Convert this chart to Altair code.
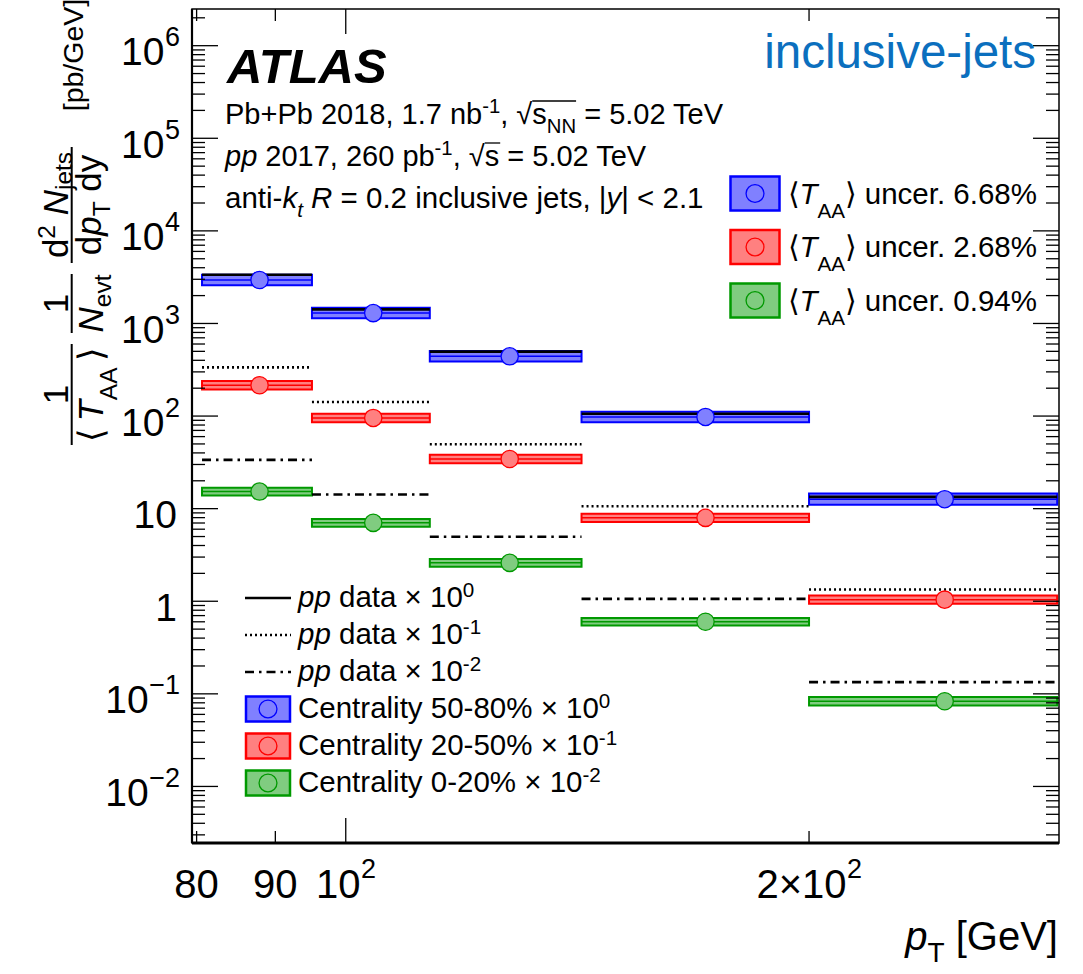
import altair as alt
import pandas as pd

# ---------------- data ----------------
BIN_LO = [80.65, 95.07, 113.4, 142.3, 200.0]
BIN_HI = [95.07, 113.4, 142.3, 200.0, 289.9]
PT_MARK = [87.9, 104.2, 127.8, 171.3, 245.0]
PP = [3360, 1420, 497, 106, 13.4]
AA_5080 = [2950, 1294, 442, 97.8, 12.65]
AA_2050 = [2150, 954, 344, 79.6, 10.4]
AA_0020 = [1530, 703, 260, 60.1, 8.32]
SYS_5080 = [0.14, 0.14, 0.14, 0.14, 0.15]
SYS_2050 = [0.11, 0.11, 0.11, 0.11, 0.11]
SYS_0020 = [0.10, 0.10, 0.10, 0.10, 0.11]
SCALE_EXP = [0, -1, -2]
CENT_LABELS = ["50-80%", "20-50%", "0-20%"]
TAA_UNC = ["6.68%", "2.68%", "0.94%"]
SCALE_SUP = ["0", "-1", "-2"]

Y_MAJOR = [1e-2, 1e-1, 1, 10, 100, 1e3, 1e4, 1e5, 1e6]
Y_LABEL_BASE = ["10", "10", "1", "10", "10", "10", "10", "10", "10"]
Y_LABEL_SUP = ["\u22122", "\u22121", "", "", "2", "3", "4", "5", "6"]
X_MAJOR = [100]
X_MINOR = [80, 90, 200]
X_LABEL_VAL = [80, 90, 100, 200]
X_LABEL_BASE = ["80", "90", "10", "2\u00d710"]
X_LABEL_SUP = ["", "", "2", "2"]

Y_DOMAIN = [2.45e-3, 2.49e6]
X_DOMAIN = [79.45, 290.7]

# ---------------- layout ----------------
PADL, PADT = 192, 9
W, H = 867, 834
FONT = "Liberation Sans"

SERIES = ["c5080", "c2050", "c0020"]
STROKES = ["#0000ff", "#ff0000", "#009900"]
FILLS = ["#8080ff", "#ff8080", "#80cc80"]

xs = alt.Scale(type="log", domain=X_DOMAIN, nice=False)
ys = alt.Scale(type="log", domain=Y_DOMAIN, nice=False)

HW = {' ': 278, '!': 278, '%': 889, '(': 333, ')': 333, '+': 584, ',': 278, '-': 333,
      '.': 278, '/': 278, '<': 584, '=': 584, '>': 584, '[': 278, ']': 278, '|': 260,
      'A': 667, 'B': 667, 'C': 722, 'D': 722, 'E': 667, 'F': 611, 'G': 778, 'H': 722, 'I': 278,
      'J': 500, 'K': 667, 'L': 556, 'M': 833, 'N': 722, 'O': 778, 'P': 667, 'Q': 778, 'R': 722,
      'S': 667, 'T': 611, 'U': 722, 'V': 667, 'W': 944, 'X': 667, 'Y': 667, 'Z': 611,
      'a': 556, 'b': 556, 'c': 500, 'd': 556, 'e': 556, 'f': 278, 'g': 556, 'h': 556, 'i': 222,
      'j': 222, 'k': 500, 'l': 222, 'm': 833, 'n': 556, 'o': 556, 'p': 556, 'q': 556, 'r': 333,
      's': 500, 't': 278, 'u': 556, 'v': 500, 'w': 722, 'x': 500, 'y': 500, 'z': 500,
      '\u00d7': 584, '\u2212': 584, '\u27e8': 390, '\u27e9': 390, '\u221a': 549}
for d in "0123456789":
    HW[d] = 556
HWB = {'A': 722, 'T': 611, 'L': 611, 'S': 667}


def tw(s, size, bold=False):
    tab = HWB if bold else {}
    return sum(tab.get(c, HW.get(c, 556)) for c in s) * size / 1000.0


TEXT_ROWS = []


def place(x0, y0, parts, S, align="left", angle=0, color="black", sup_dy=-0.38, sub_dy=0.3, rel=0.7):
    segs = []
    for p in parts:
        raw, kind = p[0], p[1]
        over = p[2] if len(p) > 2 else None
        if kind in ("sup", "isup"):
            size, dy = S * rel, sup_dy * S
        elif kind in ("sub", "isub"):
            size, dy = S * rel, sub_dy * S
        else:
            size, dy = S, 0.0
        if over is not None:
            dy = over
        style = "italic" if kind in ("i", "isub", "isup", "b") else "normal"
        weight = "bold" if kind == "b" else "normal"
        lead = len(raw) - len(raw.lstrip(" "))
        segs.append(dict(text=raw.strip(" "), size=size, dy=dy, style=style, weight=weight,
                         w=tw(raw, size, kind == "b"), lead=tw(" " * lead, size)))
    total = sum(s["w"] for s in segs)
    adv = {"left": 0.0, "center": -total / 2, "right": -total}[align]
    out = []
    for s in segs:
        a = adv + s["lead"]
        if angle == 0:
            x, y = x0 + a, y0 + s["dy"]
        else:
            x, y = x0 + s["dy"], y0 - a
        if s["text"]:
            TEXT_ROWS.append(dict(x=x - PADL, y=y - PADT, text=s["text"], size=s["size"],
                                  style=s["style"], weight=s["weight"], angle=angle, color=color))
        out.append((x0 + a, x0 + adv + s["w"]))
        adv += s["w"]
    return out


def one():
    return pd.DataFrame({"a": [0]})


def prule(x1, y1, x2, y2, width=1.3, color="black", dash=None):
    kw = dict(strokeWidth=width, color=color)
    if dash:
        kw["strokeDash"] = dash
    return alt.Chart(one()).mark_rule(**kw).encode(
        x=alt.value(x1 - PADL), x2=alt.value(x2 - PADL),
        y=alt.value(y1 - PADT), y2=alt.value(y2 - PADT))


layers = []

# ---------------- data marks ----------------
rows = []
for s, vals, sys, e in zip(SERIES, [AA_5080, AA_2050, AA_0020], [SYS_5080, SYS_2050, SYS_0020], SCALE_EXP):
    f = 10.0 ** e
    for i in range(len(vals)):
        v = vals[i] * f
        rows.append(dict(series=s, lo=BIN_LO[i], hi=BIN_HI[i], pt=PT_MARK[i], v=v,
                         vlo=v / (1 + sys[i]), vhi=v * (1 + sys[i])))
box_df = pd.DataFrame(rows)

fill_enc = alt.Fill("series:N", scale=alt.Scale(domain=SERIES, range=FILLS), legend=None)
stroke_enc = alt.Stroke("series:N", scale=alt.Scale(domain=SERIES, range=STROKES), legend=None)

layers.append(alt.Chart(box_df).mark_rect(strokeWidth=2).encode(
    x=alt.X("lo:Q", scale=xs, axis=None), x2="hi:Q",
    y=alt.Y("vlo:Q", scale=ys, axis=None), y2="vhi:Q",
    fill=fill_enc, stroke=stroke_enc))
layers.append(alt.Chart(box_df).mark_rule(strokeWidth=1.5).encode(
    x=alt.X("lo:Q", scale=xs, axis=None), x2="hi:Q",
    y=alt.Y("v:Q", scale=ys, axis=None), stroke=stroke_enc))

DASHES = [None, [2, 3], [9, 5, 2.5, 5]]
for e, dash in zip(SCALE_EXP, DASHES):
    f = 10.0 ** e
    df = pd.DataFrame({"lo": BIN_LO, "hi": BIN_HI, "v": [p * f for p in PP]})
    kw = dict(strokeWidth=2.6, color="black")
    if dash:
        kw["strokeDash"] = dash
    layers.append(alt.Chart(df).mark_rule(**kw).encode(
        x=alt.X("lo:Q", scale=xs, axis=None), x2="hi:Q",
        y=alt.Y("v:Q", scale=ys, axis=None)))

layers.append(alt.Chart(box_df).mark_circle(size=300, strokeWidth=1.3, opacity=1).encode(
    x=alt.X("pt:Q", scale=xs, axis=None), y=alt.Y("v:Q", scale=ys, axis=None),
    fill=fill_enc, stroke=stroke_enc))

# ---------------- ticks ----------------
y_minor = []
for n in range(-3, 7):
    for k in range(2, 10):
        v = k * 10.0 ** n
        if Y_DOMAIN[0] <= v <= Y_DOMAIN[1]:
            y_minor.append(v)

for vals, ln in [(Y_MAJOR, 26), (y_minor, 13)]:
    df = pd.DataFrame({"v": vals})
    layers.append(alt.Chart(df).mark_rule(strokeWidth=1.3, color="black").encode(
        x=alt.value(0), x2=alt.value(ln), y=alt.Y("v:Q", scale=ys, axis=None)))
    layers.append(alt.Chart(df).mark_rule(strokeWidth=1.3, color="black").encode(
        x=alt.value(W), x2=alt.value(W - ln), y=alt.Y("v:Q", scale=ys, axis=None)))
for vals, ln in [(X_MAJOR, 25), (X_MINOR, 12)]:
    df = pd.DataFrame({"v": vals})
    layers.append(alt.Chart(df).mark_rule(strokeWidth=1.3, color="black").encode(
        y=alt.value(H), y2=alt.value(H - ln), x=alt.X("v:Q", scale=xs, axis=None)))
    layers.append(alt.Chart(df).mark_rule(strokeWidth=1.3, color="black").encode(
        y=alt.value(0), y2=alt.value(ln), x=alt.X("v:Q", scale=xs, axis=None)))

# frame thick edges
layers.append(prule(PADL, PADT, PADL, PADT + H, width=2.2))
layers.append(prule(PADL, PADT + H, PADL + W, PADT + H, width=3))

# ---------------- y tick labels ----------------
R = 180 - PADL
yl = []
for v, b, s in zip(Y_MAJOR, Y_LABEL_BASE, Y_LABEL_SUP):
    ws = tw(s, 27)
    sx = R - ws
    bx = sx - 0.5 if s else R - 3
    yl.append(dict(v=v, b=b, s=s, bx=bx, sx=sx))
yl_df = pd.DataFrame(yl)
layers.append(alt.Chart(yl_df).mark_text(align="right", baseline="alphabetic", font=FONT,
                                         fontSize=39, dy=19.5, color="black").encode(
    x=alt.X("bx:Q", scale=None, axis=None), y=alt.Y("v:Q", scale=ys, axis=None), text="b:N"))
layers.append(alt.Chart(yl_df[yl_df["s"] != ""]).mark_text(align="left", baseline="alphabetic", font=FONT,
                                                         fontSize=27, dy=0.5, color="black").encode(
    x=alt.X("sx:Q", scale=None, axis=None), y=alt.Y("v:Q", scale=ys, axis=None), text="s:N"))

# ---------------- x tick labels ----------------
for v, b, s in zip(X_LABEL_VAL, X_LABEL_BASE, X_LABEL_SUP):
    df = pd.DataFrame({"v": [v], "b": [b], "s": [s]})
    if s:
        wb, wsup = tw(b, 40), tw(s, 27)
        dx = (wb + wsup) / 2 - wsup
        layers.append(alt.Chart(df).mark_text(align="right", baseline="alphabetic", font=FONT,
                                              fontSize=40, dx=dx, color="black").encode(
            x=alt.X("v:Q", scale=xs, axis=None), y=alt.value(898 - PADT), text="b:N"))
        layers.append(alt.Chart(df).mark_text(align="left", baseline="alphabetic", font=FONT,
                                              fontSize=27, dx=dx + 0.5, color="black").encode(
            x=alt.X("v:Q", scale=xs, axis=None), y=alt.value(878 - PADT), text="s:N"))
    else:
        layers.append(alt.Chart(df).mark_text(align="center", baseline="alphabetic", font=FONT,
                                              fontSize=40, color="black").encode(
            x=alt.X("v:Q", scale=xs, axis=None), y=alt.value(898 - PADT), text="b:N"))

# x title
place(1058, 950, [("p", "i"), ("T", "sub", 12), (" [GeV]", "n")], 40, align="right")

# ---------------- y title (rotated fractions) ----------------
place(68, 394.5, [("1", "n")], 35, align="center", angle=270)
place(103, 394.5, [("\u27e8", "n"), (" ", "sub"), ("T", "i"), ("AA", "sub", 14), (" ", "sub"), ("\u27e9", "n")],
      35, align="center", angle=270)
place(68, 303.5, [("1", "n")], 35, align="center", angle=270)
place(103, 303.5, [("N", "i"), ("evt", "sub", 8)], 35, align="center", angle=270)
place(68, 205, [("d", "n"), ("2", "sup", -13), (" ", "n"), ("N", "i"), ("jets", "sub", 4)], 35,
      align="center", angle=270)
place(101, 205, [("d", "n"), ("p", "i"), ("T", "sub", 9), (" dy", "n")], 35, align="center", angle=270)
place(83, 55, [("[pb/GeV]", "n")], 28.5, align="center", angle=270)
for y1, y2 in [(344, 445), (274, 333), (147, 263)]:
    layers.append(prule(71.7, y1, 71.7, y2, width=2))

# ---------------- annotations ----------------
place(227, 83, [("ATLAS", "b")], 49)
s1 = place(225, 124, [("Pb+Pb 2018, 1.7 nb", "n"), ("-1", "sup"), (",", "n"), (" \u221a", "n"),
                      ("s", "n"), ("NN", "sub"), (" = 5.02 TeV", "n")], 29)
layers.append(prule(s1[4][0], 124 - 23, s1[5][1], 124 - 23, width=1.3))
s2 = place(225, 166, [("pp", "i"), (" 2017, 260 pb", "n"), ("-1", "sup"), (",", "n"), (" \u221a", "n"),
                      ("s", "n"), (" = 5.02 TeV", "n")], 29)
layers.append(prule(s2[5][0], 166 - 23, s2[5][1] + 1, 166 - 23, width=1.3))
place(225, 208, [("anti-", "n"), ("k", "i"), ("t", "isub"), (" R", "i"),
                 (" = 0.2 inclusive jets, |", "n"), ("y", "i"), ("| < 2.1", "n")], 29.5)
place(1036, 68, [("inclusive-jets", "n")], 47.5, align="right", color="#0b6fbe")

# legend (top right)
TR_CENTERS = [193.5, 247, 300.5]
leg_rows = []
for i, (c, unc) in enumerate(zip(TR_CENTERS, TAA_UNC)):
    leg_rows.append(dict(x1=730.5 - PADL, x2=779.5 - PADL, y1=c - 17 - PADT, y2=c + 17 - PADT,
                         cx=755 - PADL, cy=c - PADT, f=FILLS[i], s=STROKES[i]))
    place(788, c + 10, [("\u27e8", "n"), ("T", "i"), ("AA", "sub", 14), ("\u27e9", "n"),
                        (" uncer. " + unc, "n")], 29.5)

# legend (bottom left)
BL_CENTERS = [598, 635, 672, 709, 746, 783]
for i, dash in enumerate(DASHES):
    c = BL_CENTERS[i]
    layers.append(prule(245, c, 291, c, width=2.6, dash=dash))
    place(298, c + 9, [("pp", "i"), (" data \u00d7 10", "n"), (SCALE_SUP[i], "sup", -10)], 29.5)
for i in range(3):
    c = BL_CENTERS[3 + i]
    leg_rows.append(dict(x1=246 - PADL, x2=290 - PADL, y1=c - 12.5 - PADT, y2=c + 12.5 - PADT,
                         cx=268 - PADL, cy=c - PADT, f=FILLS[i], s=STROKES[i]))
    place(298, c + 9, [("Centrality " + CENT_LABELS[i] + " \u00d7 10", "n"), (SCALE_SUP[i], "sup", -10)], 29.5)
leg_df = pd.DataFrame(leg_rows)
layers.append(alt.Chart(leg_df).mark_rect(strokeWidth=2.5).encode(
    x=alt.X("x1:Q", scale=None, axis=None), x2="x2:Q",
    y=alt.Y("y1:Q", scale=None, axis=None), y2="y2:Q",
    fill=alt.Fill("f:N", scale=None), stroke=alt.Stroke("s:N", scale=None)))
layers.append(alt.Chart(leg_df).mark_circle(size=320, strokeWidth=1.3, opacity=1).encode(
    x=alt.X("cx:Q", scale=None, axis=None), y=alt.Y("cy:Q", scale=None, axis=None),
    fill=alt.Fill("f:N", scale=None), stroke=alt.Stroke("s:N", scale=None)))

# ---------------- text layers ----------------
tdf = pd.DataFrame(TEXT_ROWS)
for (style, weight, angle, color), g in tdf.groupby(["style", "weight", "angle", "color"]):
    layers.append(alt.Chart(g.reset_index(drop=True)).mark_text(
        align="left", baseline="alphabetic", font=FONT, fontStyle=style, fontWeight=weight,
        angle=float(angle), color=color).encode(
        x=alt.X("x:Q", scale=None, axis=None), y=alt.Y("y:Q", scale=None, axis=None),
        text="text:N", size=alt.Size("size:Q", scale=None, legend=None)))

chart = alt.layer(*layers).properties(
    width=W, height=H,
    padding={"left": PADL, "top": PADT, "right": 1083 - PADL - W, "bottom": 974 - PADT - H},
    autosize=alt.AutoSizeParams(type="none"),
    background="white",
).configure_view(stroke="black", strokeWidth=1.5)

chart.save("out.html", embed_options={"renderer": "svg", "actions": False})
